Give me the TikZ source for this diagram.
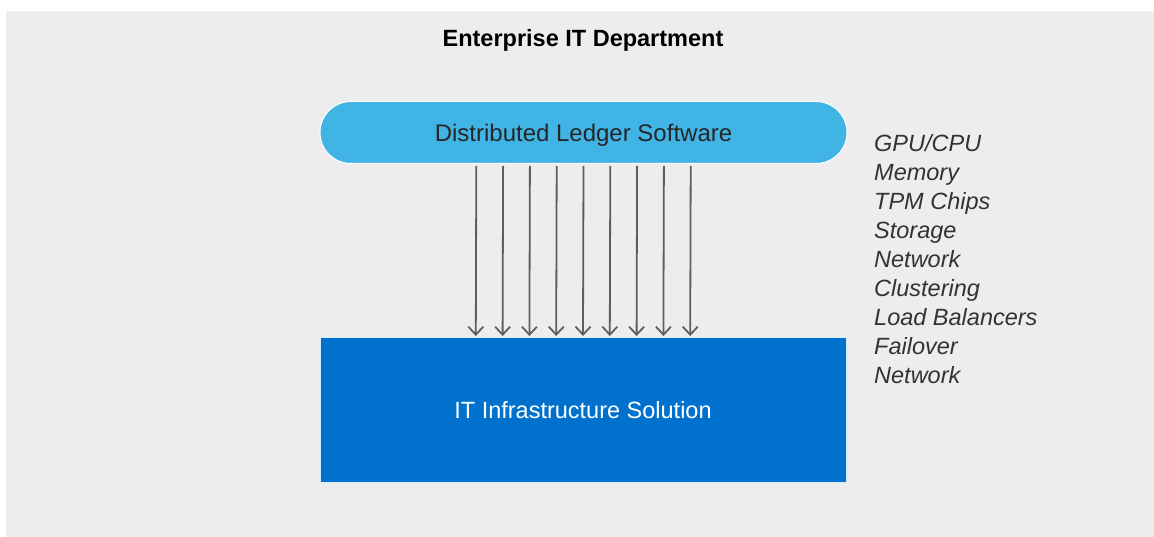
\documentclass[tikz,border=0pt]{standalone}
\usepackage{fontspec}
\setmainfont{Liberation Sans}
\usetikzlibrary{arrows.meta,positioning}
\definecolor{panelgray}{HTML}{EDEDED}
\definecolor{ledgerblue}{HTML}{41B4E6}
\definecolor{infrablue}{HTML}{0072CE}
\definecolor{arrowgray}{HTML}{5E5E5E}
\definecolor{listgray}{HTML}{333333}
\tikzset{%
	pill/.style     = {draw=white, line width=1pt, fill=ledgerblue, rectangle, rounded corners=31pt, minimum width=527pt, minimum height=62pt, text=black!85, text height=17.5pt, text depth=0pt, font=\fontsize{24}{28}\selectfont},
	infrabox/.style = {draw=white!85!infrablue, line width=1pt, fill=infrablue, rectangle, minimum width=526pt, minimum height=144pt, text=white, font=\fontsize{23.5}{28}\selectfont},
	title/.style    = {font=\bfseries\fontsize{23.5}{28}\selectfont, text=black},
	listitem/.style = {anchor=base west, inner sep=0pt, text=listgray, font=\itshape\fontsize{23.5}{28}\selectfont},
	arrow/.style    = {draw=arrowgray, line width=1.8pt, -{Straight Barb[length=8pt,width=15pt,line width=1.8pt]}},
}
\begin{document}
\begin{tikzpicture}[x=1pt,y=-1pt]
	\useasboundingbox (0,0) rectangle (1154,537);
	\fill[panelgray] (6,11) rectangle (1154,537);
	
	\node [title] (dept) at (583,40) {Enterprise IT Department};
	\node [pill] (dls) at (583.5,132.5) {Distributed Ledger Software};
	\node [infrabox] (infra) at (583,410) {IT Infrastructure Solution};
	
	% resources
	\foreach \label [count=\n from 0] in {GPU/CPU,Memory,TPM Chips,Storage,Network,Clustering,Load Balancers,Failover,Network}
		\node [listitem] (item\n) at (874,151.5+29*\n) {\label};
	
	% software onto infrastructure
	\foreach \i in {0,...,8}
		\draw [arrow] ([xshift=\i*26.8pt-107.2pt,yshift=-2pt]dls.south) -- ([xshift=\i*26.8pt-107.2pt,yshift=1.5pt]infra.north);
\end{tikzpicture}
\end{document}
